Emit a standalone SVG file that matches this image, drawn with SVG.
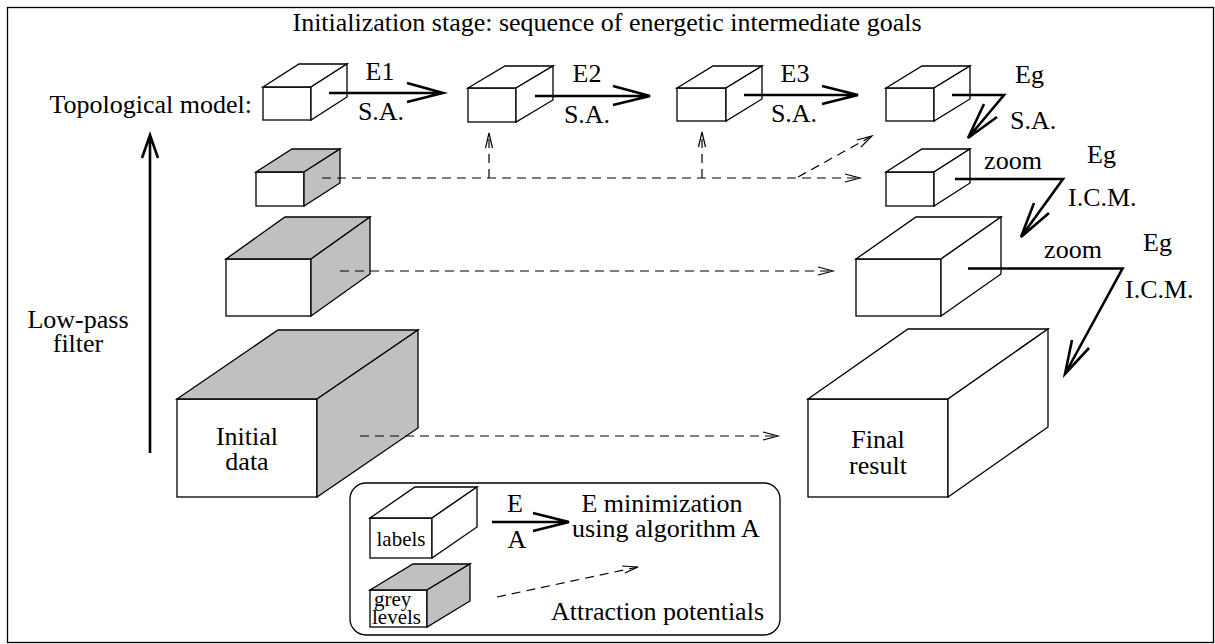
<svg xmlns="http://www.w3.org/2000/svg" width="1215" height="644" viewBox="0 0 1215 644">
<style>
.bx rect,.bx polygon{stroke:#000;stroke-width:1.3;stroke-linejoin:miter}
.w{fill:#fff}
.g{fill:#c0c0c0}
.t{font-family:"Liberation Serif","Times New Roman",serif;font-size:26px;fill:#000}
.s{font-family:"Liberation Serif","Times New Roman",serif;font-size:21px;fill:#000}
.sol{fill:none;stroke:#000;stroke-width:2.6;stroke-linecap:butt;stroke-linejoin:miter}
.das{fill:none;stroke:#000;stroke-width:1.2;stroke-dasharray:9 6}
.hd{fill:none;stroke:#000;stroke-width:1.2}
</style>
<rect x="7.5" y="7.5" width="1206" height="635" fill="#fff" stroke="#000" stroke-width="1.3"/>
<text class="t" x="607" y="31" text-anchor="middle">Initialization stage: sequence of energetic intermediate goals</text>
<text class="t" x="252" y="113" text-anchor="end">Topological model:</text>
<text class="t" x="78" y="328" text-anchor="middle">Low-pass</text>
<text class="t" x="78" y="352" text-anchor="middle">filter</text>

<g id="top1" class="bx"><rect class="w" x="263" y="87" width="48" height="33"/><polygon class="w" points="263,87 299,64 347,64 311,87"/><polygon class="w" points="311,87 347,64 347,97 311,120"/></g>
<g id="top2" class="bx"><rect class="w" x="468" y="88" width="48" height="34"/><polygon class="w" points="468,88 505,66 553,66 516,88"/><polygon class="w" points="516,88 553,66 553,100 516,122"/></g>
<g id="top3" class="bx"><rect class="w" x="677" y="88" width="49" height="33"/><polygon class="w" points="677,88 713,66 762,66 726,88"/><polygon class="w" points="726,88 762,66 762,99 726,121"/></g>
<g id="top4" class="bx"><rect class="w" x="886" y="88" width="48" height="33"/><polygon class="w" points="886,88 922,66 970,66 934,88"/><polygon class="w" points="934,88 970,66 970,99 934,121"/></g>
<g id="grey1" class="bx"><rect class="w" x="256" y="172" width="48" height="34"/><polygon class="g" points="256,172 292,149 340,149 304,172"/><polygon class="g" points="304,172 340,149 340,183 304,206"/></g>
<g id="res1" class="bx"><rect class="w" x="886" y="172" width="48" height="34"/><polygon class="w" points="886,172 922,149 970,149 934,172"/><polygon class="w" points="934,172 970,149 970,183 934,206"/></g>
<g id="grey2" class="bx"><rect class="w" x="226" y="259" width="85" height="57"/><polygon class="g" points="226,259 285,217 370,217 311,259"/><polygon class="g" points="311,259 370,217 370,274 311,316"/></g>
<g id="res2" class="bx"><rect class="w" x="856" y="259" width="85" height="57"/><polygon class="w" points="856,259 916,217 1001,217 941,259"/><polygon class="w" points="941,259 1001,217 1001,274 941,316"/></g>
<g id="initial" class="bx"><rect class="w" x="177" y="399" width="140" height="98"/><polygon class="g" points="177,399 278,330 418,330 317,399"/><polygon class="g" points="317,399 418,330 418,428 317,497"/><text class="t" x="247" y="445" text-anchor="middle">Initial</text><text class="t" x="247" y="470" text-anchor="middle">data</text></g>
<g id="final" class="bx"><rect class="w" x="808" y="399" width="140" height="98"/><polygon class="w" points="808,399 908,329 1048,329 948,399"/><polygon class="w" points="948,399 1048,329 1048,427 948,497"/><text class="t" x="878" y="448" text-anchor="middle">Final</text><text class="t" x="878" y="474" text-anchor="middle">result</text></g>

<g id="connectors">
<path class="sol" d="M150,453 V135 M142,158 L150,135 L158,158"/>
<path class="sol" d="M329,93 H443 M407,83 L443,93 L407,102"/>
<path class="sol" d="M535,96 H650 M613,86 L650,96 L613,105"/>
<path class="sol" d="M744,95 H858 M822,86 L858,95 L822,104"/>
<path class="sol" d="M952,95 H1004 L968,138 M984,104 L968,138 L997,117"/>
<path class="sol" d="M955,179 H1063 L1021,237 M1034,203 L1021,237 L1049,213"/>
<path class="sol" d="M968,268.5 H1122.5 L1065,374 M1072,340 L1065,374 L1089,348"/>
<path class="das" d="M322,178 H860"/><path class="hd" d="M845,174 L860,178 L845,182"/>
<path class="das" d="M489,178 V134"/><path class="hd" d="M485.5,148 L489,133 L492.5,148"/>
<path class="das" d="M702,178 V133"/><path class="hd" d="M698.5,147 L702,132 L705.5,147"/>
<path class="das" d="M798,177 L872,136"/><path class="hd" d="M857,140 L872,136 L861,147"/>
<path class="das" d="M340,271 H833"/><path class="hd" d="M818,267 L833,271 L818,275"/>
<path class="das" d="M360,436 H778"/><path class="hd" d="M763,432 L778,436 L763,440"/>
</g>

<g id="labels">
<text class="t" x="380" y="80" text-anchor="middle">E1</text>
<text class="t" x="381" y="120" text-anchor="middle">S.A.</text>
<text class="t" x="587" y="82" text-anchor="middle">E2</text>
<text class="t" x="587" y="123" text-anchor="middle">S.A.</text>
<text class="t" x="795" y="82" text-anchor="middle">E3</text>
<text class="t" x="794" y="122" text-anchor="middle">S.A.</text>
<text class="t" x="1015" y="83">Eg</text>
<text class="t" x="1010" y="129">S.A.</text>
<text class="t" x="1013" y="169" text-anchor="middle">zoom</text>
<text class="t" x="1087" y="163">Eg</text>
<text class="t" x="1068" y="206">I.C.M.</text>
<text class="t" x="1073" y="258" text-anchor="middle">zoom</text>
<text class="t" x="1143" y="251">Eg</text>
<text class="t" x="1125" y="298">I.C.M.</text>
</g>

<g id="legend">
<rect x="350" y="483" width="430" height="152" rx="16" fill="#fff" stroke="#000" stroke-width="1.3"/>
<g id="leg-labels" class="bx"><rect class="w" x="370" y="518" width="62" height="40"/><polygon class="w" points="370,518 415,487 477,487 432,518"/><polygon class="w" points="432,518 477,487 477,527 432,558"/><text class="s" x="401" y="546" text-anchor="middle">labels</text></g>
<g id="leg-grey" class="bx"><rect class="w" x="370" y="590" width="57" height="37"/><polygon class="g" points="370,590 413,564 470,564 427,590"/><polygon class="g" points="427,590 470,564 470,601 427,627"/><text class="s" x="374" y="606">grey</text><text class="s" x="372" y="624">levels</text></g>
<path class="sol" d="M492,522 H569 M533,513 L569,522 L533,531"/>
<text class="t" x="515" y="512" text-anchor="middle">E</text>
<text class="t" x="517" y="548" text-anchor="middle">A</text>
<text class="t" x="662" y="512" text-anchor="middle">E minimization</text>
<text class="t" x="666" y="537" text-anchor="middle">using algorithm A</text>
<path class="das" d="M497,597 L638,567"/><path class="hd" d="M622,566 L638,567 L625,573"/>
<text class="t" x="551" y="620">Attraction potentials</text>
</g>
</svg>
